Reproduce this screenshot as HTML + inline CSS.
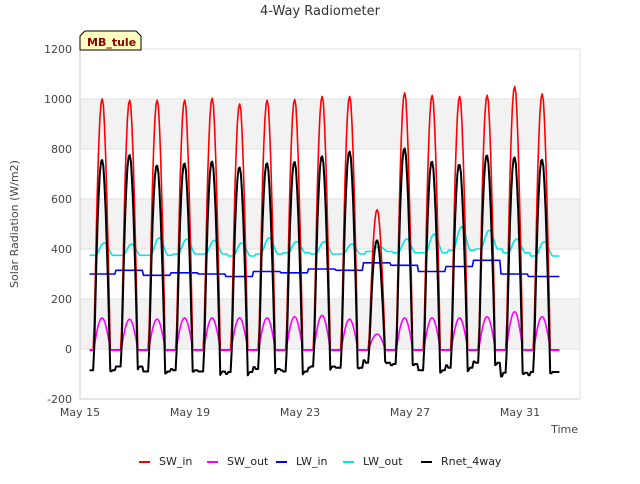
<!DOCTYPE html>
<html><head><meta charset="utf-8"><style>
body{margin:0;background:#fff;font-family:"DejaVu Sans","Liberation Sans",sans-serif;}
svg text{font-family:"DejaVu Sans","Liberation Sans",sans-serif;}
</style></head><body>
<svg id="c" width="640" height="480" xmlns="http://www.w3.org/2000/svg">
<rect x="0" y="0" width="640" height="480" fill="#fff"/>
<text x="320" y="15" text-anchor="middle" font-size="13" fill="#333">4-Way Radiometer</text>
<g id="grid"></g>
<g id="axes"></g>
<g id="series"></g>
<g>
<path d="M80,50 L80,36 L85,31 L136,31 L141,36 L141,50 Z" fill="#ffffc0" stroke="#000" stroke-width="1"/>
<text x="87" y="46" font-size="11" font-weight="bold" fill="#8b0000">MB_tule</text>
</g>
<text transform="translate(18,224) rotate(-90)" text-anchor="middle" font-size="11" fill="#444">Solar Radiation (W/m2)</text>
<text x="578" y="433" text-anchor="end" font-size="11" fill="#444">Time</text>
<g id="legend"></g>
</svg>
<script>
const yTicks=[-200,0,200,400,600,800,1000,1200];
const xTickLabels=["May 15","May 19","May 23","May 27","May 31"];
const xTickDays=[0,4,8,12,16];
const seriesNames=["SW_in","SW_out","LW_in","LW_out","Rnet_4way"];
const seriesColors=["#ff0000","#ff00ff","#0000ff","#00e5e5","#000000"];
const swInPeak=[1005,1000,1000,1000,1008,985,1000,1003,1015,1015,560,1030,1020,1015,1020,1055,1025];
const swOutPeak=[125,120,120,125,125,125,125,130,135,120,60,125,125,125,130,150,130];
const lwInDaily=[300,315,295,305,300,290,310,305,320,315,345,335,310,330,355,300,290];
const lwOutBase=[375,375,375,380,380,372,380,385,380,380,390,385,385,395,400,385,372];
const lwOutPeak=[425,420,445,440,435,425,445,430,430,420,410,440,460,490,475,440,430];
const dayShape=[0,0.26,0.5,0.71,0.87,0.97,1,0.97,0.87,0.71,0.5,0.26,0];

const L=80,R=580,T=49,B=399,x0Day=0,x1Day=500/27.5;
const xs=d=>L+(d-x0Day)/(x1Day-x0Day)*(R-L);
const ys=v=>B-(v+200)/1400*(B-T);
const NS="http://www.w3.org/2000/svg";
function el(tag,attrs,parent){const e=document.createElementNS(NS,tag);for(const k in attrs)e.setAttribute(k,attrs[k]);parent.appendChild(e);return e;}

const grid=document.getElementById('grid');
[[0,200],[400,600],[800,1000]].forEach(b=>{
 const r=el('rect',{x:L,y:ys(b[1]),width:R-L,height:ys(b[0])-ys(b[1]),fill:'#f2f2f2'},grid);
 
 
});
yTicks.forEach(v=>{
 const g=el('line',{x1:L,x2:R,y1:ys(v),y2:ys(v),stroke:'#e0e0e0','stroke-width':1},grid);
 
 
});
el('line',{x1:R,x2:R,y1:T,y2:B,stroke:'#e0e0e0'},grid);
const axes=document.getElementById('axes');
el('line',{x1:L,x2:L,y1:T,y2:B,stroke:'#ccc'},axes);
el('line',{x1:L,x2:R,y1:B,y2:B,stroke:'#ccc'},axes);
yTicks.forEach(v=>{
 const t=el('text',{x:L-8,y:ys(v)+4,'text-anchor':'end','font-size':11,fill:'#444'},axes);
 t.textContent=v;
 
 
});
xTickDays.forEach((d,i)=>{
 const t=el('text',{x:xs(d),y:B+17,'text-anchor':'middle','font-size':11,fill:'#444'},axes);
 t.textContent=xTickLabels[i];
 
 
});

const nDays=swInPeak.length, step=1/24;
function daylight(t){
 const d=Math.round(t-0.8); const ph=t-d-0.8;
 if(d<0||d>=nDays||Math.abs(ph)>=0.3) return [Math.max(0,Math.min(nDays-1,d)),0];
 const p=(ph+0.3)/0.6*(dayShape.length-1); const i=Math.floor(p),f=p-i;
 const v=dayShape[i]*(1-f)+(dayShape[Math.min(i+1,dayShape.length-1)])*f;
 return [d,v];
}
const pts=[[],[],[],[],[]];
for(let t=0.35;t<=17.45;t+=step){
 const [d,f]=daylight(t);
 const [d2,f2]=daylight(t-0.08);
 const sw=swInPeak[d]*f;
 const so=f>0?swOutPeak[d]*f:-5;
 const swp=f>0?sw:-3;
 const di=Math.min(nDays-1,Math.max(0,Math.floor(t-0.3)));
 const lwi=lwInDaily[di];
 const lwo=lwOutBase[d2]+(lwOutPeak[d2]-lwOutBase[d2])*Math.pow(f2,1.5);
 const rn=sw-Math.max(0,so)+lwi-lwo-(f>0?0:10);
 [swp,so,lwi,lwo,rn].forEach((v,k)=>pts[k].push(xs(t).toFixed(1)+','+ys(v).toFixed(1)));
}
const ser=document.getElementById('series');
[3,2,0,1,4].forEach(k=>{
 const p=el('polyline',{points:pts[k].join(' '),fill:'none',stroke:seriesColors[k],'stroke-width':k==4?2:1.6,'stroke-linejoin':'round'},ser);
 
 
});
const leg=document.getElementById('legend');
const lx=[139,207,276,343,421];
seriesNames.forEach((n,i)=>{
 const g=el('g',{},leg);
 
 
 el('line',{x1:lx[i],x2:lx[i]+11,y1:462,y2:462,stroke:seriesColors[i],'stroke-width':2},g);
 const t=el('text',{x:lx[i]+20,y:465,'font-size':11,fill:'#222'},g);
 t.textContent=n;
});
</script>
</body></html>
